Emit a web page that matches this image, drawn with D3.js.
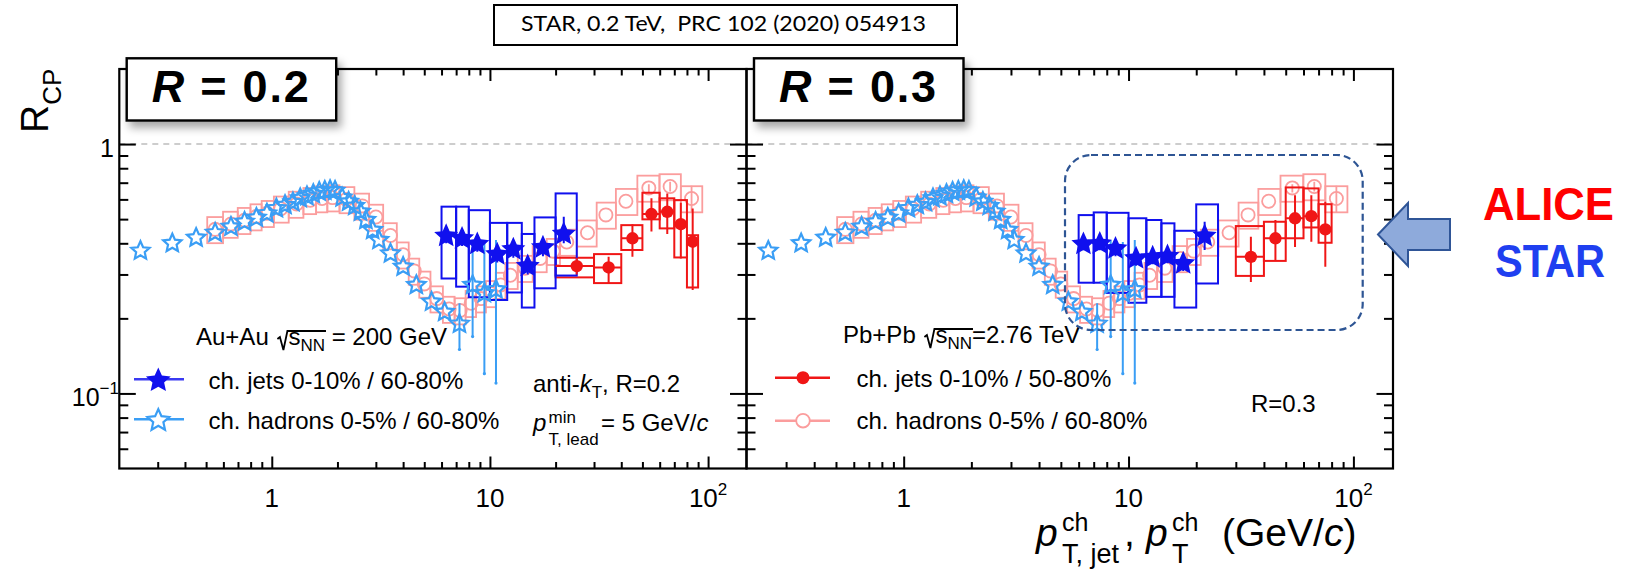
<!DOCTYPE html>
<html>
<head>
<meta charset="utf-8">
<script src="https://cdn.jsdelivr.net/npm/d3@7"></script>
<style>
  body { margin: 0; background: #fff; }
  svg { display: block; }
  text { font-family: "Liberation Sans", Arial, Helvetica, sans-serif; fill: #000; }
</style>
</head>
<body>
<svg id="chart" width="1630" height="570"></svg>
<script>
// ---------------- data ----------------
// STAR charged hadrons 0-5% / 60-80% (same in both panels)
var starHadPt = [0.25, 0.35, 0.45, 0.55, 0.65, 0.75, 0.85, 0.95, 1.05, 1.15, 1.25, 1.35,
  1.45, 1.55, 1.65, 1.75, 1.85, 1.95, 2.1, 2.25, 2.4, 2.55, 2.7, 2.9, 3.1, 3.5, 4.0, 4.6,
  5.4, 6.2, 7.25, 8.33, 9.43, 10.66];
var starHadR = [0.373, 0.40, 0.421, 0.441, 0.466, 0.488, 0.506, 0.527, 0.552, 0.569, 0.584, 0.606,
  0.618, 0.63, 0.644, 0.65, 0.654, 0.65, 0.61, 0.587, 0.564, 0.535, 0.496, 0.452, 0.412, 0.364, 0.322, 0.272,
  0.233, 0.212, 0.19, 0.272, 0.252, 0.261];
var starHadBarPt = [7.25, 8.33, 9.43, 10.66];
var starHadBarLo = [0.15, 0.169, 0.12, 0.11];
var starHadBarHi = [0.23, 0.412, 0.405, 0.412];

// ALICE charged hadrons 0-5% / 60-80% (same in both panels)
var aliceHadPt = [0.55, 0.65, 0.75, 0.85, 0.95, 1.1, 1.3, 1.5, 1.7, 1.9, 2.2, 2.6, 3.0, 3.5, 4.0,
  4.5, 5.0, 5.7, 6.5, 7.3, 8.2, 9.1, 10.1, 11.2, 12.4, 14.5, 17, 19.5, 22.5, 28, 34, 42, 53.5, 67, 84];
var aliceHadR = [0.455, 0.478, 0.495, 0.512, 0.528, 0.55, 0.575, 0.595, 0.605, 0.61, 0.60, 0.565, 0.51, 0.43, 0.36,
  0.31, 0.275, 0.24, 0.218, 0.215, 0.23, 0.24, 0.252, 0.272, 0.298, 0.318, 0.348, 0.372, 0.405, 0.441,
  0.52, 0.59, 0.667, 0.676, 0.605];
var aliceHadSys = 0.12;   // relative
var aliceHadBarPt = [53.5, 67, 84];
var aliceHadBarLo = [0.64, 0.646, 0.53];
var aliceHadBarHi = [0.69, 0.706, 0.68];

// STAR charged jets 0-10% / 60-80%
var starJetPt = [6.3, 7.45, 8.75, 10.8, 12.8, 14.9, 17.5, 21.8];
var starJetBinLo = [6, 7, 8, 10, 12, 14, 16, 20];
var starJetBinHi = [7, 8, 10, 12, 14, 16, 20, 25];
var starJetR02 = [0.428, 0.418, 0.397, 0.361, 0.378, 0.324, 0.385, 0.436];
var starJetSysLo02 = [0.289, 0.268, 0.243, 0.237, 0.254, 0.221, 0.264, 0.297];
var starJetSysHi02 = [0.561, 0.561, 0.543, 0.483, 0.483, 0.436, 0.508, 0.634];
var starJetStatLo02 = [0.40, 0.39, 0.37, 0.335, 0.35, 0.30, 0.355, 0.40];
var starJetStatHi02 = [0.46, 0.45, 0.43, 0.39, 0.41, 0.35, 0.415, 0.511];
var starJetR03 = [0.397, 0.399, 0.381, 0.348, 0.351, 0.355, 0.332, 0.428];
var starJetSysLo03 = [0.278, 0.278, 0.253, 0.231, 0.244, 0.244, 0.221, 0.276];
var starJetSysHi03 = [0.519, 0.532, 0.53, 0.504, 0.496, 0.481, 0.449, 0.573];
var starJetStatLo03 = [0.375, 0.375, 0.355, 0.325, 0.33, 0.333, 0.31, 0.376];
var starJetStatHi03 = [0.42, 0.425, 0.405, 0.372, 0.373, 0.378, 0.356, 0.488];

// ALICE charged jets 0-10% / 50-80%
var aliceJetPt02 = [25, 35, 45, 55, 65, 75, 85];
var aliceJetR02 = [0.324, 0.32, 0.419, 0.524, 0.535, 0.477, 0.406];
var aliceJetSysLo02 = [0.292, 0.277, 0.376, 0.499, 0.459, 0.351, 0.266];
var aliceJetSysHi02 = [0.35, 0.362, 0.473, 0.638, 0.606, 0.596, 0.431];
var aliceJetStatLo02 = [0.30, 0.275, 0.353, 0.446, 0.436, 0.348, 0.26];
var aliceJetStatHi02 = [0.35, 0.353, 0.477, 0.606, 0.634, 0.582, 0.552];
var aliceJetPt03 = [35, 45, 55, 65, 75];
var aliceJetR03 = [0.353, 0.419, 0.504, 0.514, 0.455];
var aliceJetSysLo03 = [0.296, 0.34, 0.419, 0.463, 0.402];
var aliceJetSysHi03 = [0.469, 0.488, 0.67, 0.664, 0.574];
var aliceJetStatLo03 = [0.28, 0.343, 0.387, 0.406, 0.322];
var aliceJetStatHi03 = [0.425, 0.496, 0.624, 0.624, 0.587];
var aliceJetBinHalf = 5;

// axis ticks
var xMajor = [1, 10, 100];
var xMinor = [0.3, 0.4, 0.5, 0.6, 0.7, 0.8, 0.9, 2, 3, 4, 5, 6, 7, 8, 9, 20, 30, 40, 50, 60, 70, 80, 90];
var yMajor = [0.1, 1];
var yMinor = [0.06, 0.07, 0.08, 0.09, 0.2, 0.3, 0.4, 0.5, 0.6, 0.7, 0.8, 0.9];

// colours
var cStarHad = "#3a9ef5", cStarJet = "#1010ee", cAliceJet = "#f01616", cAliceHad = "#fb9d9d";

// ---------------- layout ----------------
var svg = d3.select("#chart");
var frameTop = 69, frameBot = 468.5;
var edgesX = [119.3, 746.5, 1393];

var y = d3.scaleLog().domain([0.05, 2]).range([frameBot, frameTop]);
var xL = d3.scaleLog().domain([0.2, 150]).range([edgesX[0], edgesX[1]]);
var xR = d3.scaleLog().domain([0.2, 150]).range([edgesX[1], edgesX[2]]);

var defs = svg.append("defs");
var sh = defs.append("filter").attr("id", "shadow")
  .attr("x", "-10%").attr("y", "-20%").attr("width", "130%").attr("height", "160%");
sh.append("feDropShadow").attr("dx", 4).attr("dy", 6).attr("stdDeviation", 4)
  .attr("flood-color", "#000").attr("flood-opacity", 0.35);

// ROOT-like star marker (a bit fatter than d3.symbolStar); size = outer radius^2
var rootStar = {
  draw: function (ctx, size) {
    var r = Math.sqrt(size), ri = r * 0.47;
    for (var i = 0; i < 10; i++) {
      var a = Math.PI * i / 5, rr = i % 2 ? ri : r;
      var px = rr * Math.sin(a), py = -rr * Math.cos(a);
      if (i === 0) ctx.moveTo(px, py); else ctx.lineTo(px, py);
    }
    ctx.closePath();
  }
};
var starSym = d3.symbol().type(rootStar);

// bin edges of the ALICE hadron boxes: half way (in log) to the neighbours
function logEdges(pts) {
  return pts.map(function (v, i) {
    var prev = i > 0 ? pts[i - 1] : v * v / pts[i + 1];
    var next = i < pts.length - 1 ? pts[i + 1] : v * v / pts[i - 1];
    return [Math.sqrt(prev * v), Math.sqrt(v * next)];
  });
}
var aliceHadEdges = logEdges(aliceHadPt);

// little helper for text with sub/superscripts
function rich(sel, x, yy, size, parts, anchor) {
  var t = sel.append("text").attr("x", x).attr("y", yy).attr("font-size", size)
    .attr("text-anchor", anchor || "start");
  var shift = 0;
  parts.forEach(function (p) {
    var s = p.shift || 0;
    var ts = t.append("tspan").attr("dy", s - shift).text(p.t);
    shift = s;
    if (p.size) ts.attr("font-size", p.size);
    if (p.it) ts.attr("font-style", "italic");
    if (p.dx) ts.attr("dx", p.dx);
  });
  return t;
}

// radical drawn over characters i0..i1 of a text element
function radical(sel, textSel, i0, i1, base) {
  var n = textSel.node();
  var xs = n.getStartPositionOfChar(i0).x, xe = n.getEndPositionOfChar(i1).x;
  sel.append("path")
    .attr("d", "M" + (xs - 11) + "," + (base - 6) + "L" + (xs - 8.5) + "," + (base - 8) +
      "L" + (xs - 5) + "," + (base + 5) + "L" + (xs - 1) + "," + (base - 14) + "L" + (xe + 1) + "," + (base - 14))
    .attr("fill", "none").attr("stroke", "#000").attr("stroke-width", 1.8);
}

// dashed line at R = 1 across both panels
svg.append("line")
  .attr("x1", edgesX[0]).attr("x2", edgesX[2]).attr("y1", y(1)).attr("y2", y(1))
  .attr("stroke", "#bdbdbd").attr("stroke-width", 1.6).attr("stroke-dasharray", "6,5");

function drawPanel(x, id, starR, sLo, sHi, stLo, stHi, aPt, aR, aSLo, aSHi, aStLo, aStHi) {
  var g = svg.append("g");
  defs.append("clipPath").attr("id", "clip" + id).append("rect")
    .attr("x", x.range()[0]).attr("y", frameTop)
    .attr("width", x.range()[1] - x.range()[0]).attr("height", frameBot - frameTop);
  var d = g.append("g").attr("clip-path", "url(#clip" + id + ")");

  // ALICE hadrons: systematic boxes + open circles
  d.selectAll(".ahbox").data(aliceHadPt).enter().append("rect")
    .attr("x", function (v, i) { return x(aliceHadEdges[i][0]); })
    .attr("width", function (v, i) { return x(aliceHadEdges[i][1]) - x(aliceHadEdges[i][0]); })
    .attr("y", function (v, i) { return y(aliceHadR[i] * (1 + aliceHadSys)); })
    .attr("height", function (v, i) { return y(aliceHadR[i] * (1 - aliceHadSys)) - y(aliceHadR[i] * (1 + aliceHadSys)); })
    .attr("fill", "none").attr("stroke", cAliceHad).attr("stroke-width", 1.8);
  d.selectAll(".ahbar").data(aliceHadBarPt).enter().append("line")
    .attr("x1", function (v) { return x(v); }).attr("x2", function (v) { return x(v); })
    .attr("y1", function (v, i) { return y(aliceHadBarLo[i]); })
    .attr("y2", function (v, i) { return y(aliceHadBarHi[i]); })
    .attr("stroke", cAliceHad).attr("stroke-width", 1.8);
  d.selectAll(".ahpt").data(aliceHadPt).enter().append("circle")
    .attr("cx", function (v) { return x(v); })
    .attr("cy", function (v, i) { return y(aliceHadR[i]); })
    .attr("r", 6.6).attr("fill", "none").attr("stroke", cAliceHad).attr("stroke-width", 1.8);

  // ALICE jets boxes
  d.selectAll(".ajbox").data(aPt).enter().append("rect")
    .attr("x", function (v) { return x(v - aliceJetBinHalf); })
    .attr("width", function (v) { return x(v + aliceJetBinHalf) - x(v - aliceJetBinHalf); })
    .attr("y", function (v, i) { return y(aSHi[i]); })
    .attr("height", function (v, i) { return y(aSLo[i]) - y(aSHi[i]); })
    .attr("fill", "none").attr("stroke", cAliceJet).attr("stroke-width", 2);

  // STAR jets boxes
  d.selectAll(".sjbox").data(starJetPt).enter().append("rect")
    .attr("x", function (v, i) { return x(starJetBinLo[i]); })
    .attr("width", function (v, i) { return x(starJetBinHi[i]) - x(starJetBinLo[i]); })
    .attr("y", function (v, i) { return y(sHi[i]); })
    .attr("height", function (v, i) { return y(sLo[i]) - y(sHi[i]); })
    .attr("fill", "none").attr("stroke", cStarJet).attr("stroke-width", 2);

  // STAR hadrons
  d.selectAll(".shbar").data(starHadBarPt).enter().append("line")
    .attr("x1", function (v) { return x(v); }).attr("x2", function (v) { return x(v); })
    .attr("y1", function (v, i) { return y(starHadBarLo[i]); })
    .attr("y2", function (v, i) { return y(starHadBarHi[i]); })
    .attr("stroke", cStarHad).attr("stroke-width", 2);
  d.selectAll(".shbarend").data(starHadBarPt).enter().append("circle")
    .attr("cx", function (v) { return x(v); })
    .attr("cy", function (v, i) { return y(starHadBarLo[i]); })
    .attr("r", 1.6).attr("fill", cStarHad);
  d.selectAll(".shpt").data(starHadPt).enter().append("path")
    .attr("d", starSym.size(92)())
    .attr("transform", function (v, i) { return "translate(" + x(v) + "," + y(starHadR[i]) + ")"; })
    .attr("fill", "none").attr("stroke", cStarHad).attr("stroke-width", 2.2);

  // ALICE jets: bin bars, stat bars, filled circles
  d.selectAll(".ajh").data(aPt).enter().append("line")
    .attr("x1", function (v) { return x(v - aliceJetBinHalf); })
    .attr("x2", function (v) { return x(v + aliceJetBinHalf); })
    .attr("y1", function (v, i) { return y(aR[i]); }).attr("y2", function (v, i) { return y(aR[i]); })
    .attr("stroke", cAliceJet).attr("stroke-width", 2);
  d.selectAll(".ajv").data(aPt).enter().append("line")
    .attr("x1", function (v) { return x(v); }).attr("x2", function (v) { return x(v); })
    .attr("y1", function (v, i) { return y(aStLo[i]); }).attr("y2", function (v, i) { return y(aStHi[i]); })
    .attr("stroke", cAliceJet).attr("stroke-width", 2);
  d.selectAll(".ajpt").data(aPt).enter().append("circle")
    .attr("cx", function (v) { return x(v); })
    .attr("cy", function (v, i) { return y(aR[i]); })
    .attr("r", 6.2).attr("fill", cAliceJet);

  // STAR jets: stat bars + filled stars
  d.selectAll(".sjv").data(starJetPt).enter().append("line")
    .attr("x1", function (v) { return x(v); }).attr("x2", function (v) { return x(v); })
    .attr("y1", function (v, i) { return y(stLo[i]); }).attr("y2", function (v, i) { return y(stHi[i]); })
    .attr("stroke", cStarJet).attr("stroke-width", 2);
  d.selectAll(".sjpt").data(starJetPt).enter().append("path")
    .attr("d", starSym.size(160)())
    .attr("transform", function (v, i) { return "translate(" + x(v) + "," + y(starR[i]) + ")"; })
    .attr("fill", cStarJet);

  // frame + inward ticks
  var x0 = x.range()[0], x1 = x.range()[1];
  function ax(axis, tx, ty) {
    g.append("g").attr("transform", "translate(" + tx + "," + ty + ")").call(axis)
      .call(function (s) {
        s.select(".domain").remove();
        s.selectAll("text").remove();
        s.selectAll("line").attr("stroke", "#000").attr("stroke-width", 2);
      });
  }
  ax(d3.axisBottom(x).tickValues(xMajor).tickSize(-12).tickFormat(""), 0, frameBot);
  ax(d3.axisBottom(x).tickValues(xMinor).tickSize(-6.5).tickFormat(""), 0, frameBot);
  ax(d3.axisTop(x).tickValues(xMajor).tickSize(-12).tickFormat(""), 0, frameTop);
  ax(d3.axisTop(x).tickValues(xMinor).tickSize(-6.5).tickFormat(""), 0, frameTop);
  ax(d3.axisLeft(y).tickValues(yMajor).tickSize(-16.5).tickFormat(""), x0, 0);
  ax(d3.axisLeft(y).tickValues(yMinor).tickSize(-9).tickFormat(""), x0, 0);
  ax(d3.axisRight(y).tickValues(yMajor).tickSize(-16.5).tickFormat(""), x1, 0);
  ax(d3.axisRight(y).tickValues(yMinor).tickSize(-9).tickFormat(""), x1, 0);
  g.append("rect").attr("x", x0).attr("y", frameTop).attr("width", x1 - x0)
    .attr("height", frameBot - frameTop).attr("fill", "none").attr("stroke", "#000").attr("stroke-width", 2.2);

  // x tick labels
  xMajor.forEach(function (v) {
    var parts = v === 100 ? [{ t: "10" }, { t: "2", size: 17, shift: -12 }] : [{ t: String(v) }];
    rich(svg, x(v), 506.5, 26, parts, "middle");
  });
  return g;
}

drawPanel(xL, "L", starJetR02, starJetSysLo02, starJetSysHi02, starJetStatLo02, starJetStatHi02,
  aliceJetPt02, aliceJetR02, aliceJetSysLo02, aliceJetSysHi02, aliceJetStatLo02, aliceJetStatHi02);
drawPanel(xR, "R", starJetR03, starJetSysLo03, starJetSysHi03, starJetStatLo03, starJetStatHi03,
  aliceJetPt03, aliceJetR03, aliceJetSysLo03, aliceJetSysHi03, aliceJetStatLo03, aliceJetStatHi03);

// y tick labels (left panel only)
rich(svg, 114, y(1) + 12.5, 25, [{ t: "1" }], "end");
rich(svg, 119, y(0.1) + 13, 25, [{ t: "10" }, { t: "\u22121", size: 17, shift: -12 }], "end");

// y title R_CP
var yt = svg.append("g").attr("transform", "translate(48,133) rotate(-90)");
rich(yt, 0, 0, 39, [{ t: "R" }, { t: "CP", size: 26, shift: 13 }]);

// x title
var xt = svg.append("g");
rich(xt, 1036, 546, 39, [{ t: "p", it: true }]);
rich(xt, 1062, 531, 25, [{ t: "ch" }]);
rich(xt, 1062, 563, 27, [{ t: "T, jet" }]);
rich(xt, 1124, 546, 39, [{ t: "," }]);
rich(xt, 1146, 546, 39, [{ t: "p", it: true }]);
rich(xt, 1172, 531, 25, [{ t: "ch" }]);
rich(xt, 1172, 563, 27, [{ t: "T" }]);
rich(xt, 1222, 546, 39, [{ t: "(GeV/" }, { t: "c", it: true }, { t: ")" }]);

// ---------------- left legend ----------------
var lg = svg.append("g");
var auText = rich(lg, 196, 345, 24, [{ t: "Au+Au " }, { t: "s", dx: 13 }, { t: "NN", size: 17, shift: 6 }, { t: " = 200 GeV", shift: 0 }]);
radical(lg, auText, 6, 8, 345);
lg.append("line").attr("x1", 134).attr("x2", 184).attr("y1", 379.3).attr("y2", 379.3)
  .attr("stroke", "#3a3af2").attr("stroke-width", 2.4);
lg.append("path").attr("d", starSym.size(170)()).attr("transform", "translate(158.3,380.5)").attr("fill", cStarJet);
rich(lg, 208.5, 389, 24, [{ t: "ch. jets 0-10% / 60-80%" }]);
lg.append("line").attr("x1", 134).attr("x2", 184).attr("y1", 419.3).attr("y2", 419.3)
  .attr("stroke", cStarHad).attr("stroke-width", 2.4);
lg.append("path").attr("d", starSym.size(130)()).attr("transform", "translate(158.3,420.5)")
  .attr("fill", "#fff").attr("stroke", cStarHad).attr("stroke-width", 2.2);
rich(lg, 208.5, 429, 24, [{ t: "ch. hadrons 0-5% / 60-80%" }]);
rich(lg, 533, 391.5, 24, [{ t: "anti-" }, { t: "k", it: true }, { t: "T", size: 17, shift: 6 }, { t: ", R=0.2", shift: 0 }]);
rich(lg, 533, 431, 24, [{ t: "p", it: true }]);
rich(lg, 548.5, 423, 17, [{ t: "min" }]);
rich(lg, 548.5, 444.5, 17, [{ t: "T, lead" }]);
rich(lg, 601, 431, 24, [{ t: "= 5 GeV/" }, { t: "c", it: true }]);

// ---------------- right legend ----------------
var rg = svg.append("g");
var pbText = rich(rg, 843, 343, 24, [{ t: "Pb+Pb " }, { t: "s", dx: 13 }, { t: "NN", size: 17, shift: 6 }, { t: "=2.76 TeV", shift: 0 }]);
radical(rg, pbText, 6, 8, 343);
rg.append("line").attr("x1", 775).attr("x2", 830).attr("y1", 377.7).attr("y2", 377.7)
  .attr("stroke", cAliceJet).attr("stroke-width", 2.4);
rg.append("circle").attr("cx", 803).attr("cy", 377.7).attr("r", 6.5).attr("fill", cAliceJet);
rich(rg, 856.5, 386.7, 24, [{ t: "ch. jets 0-10% / 50-80%" }]);
rg.append("line").attr("x1", 775).attr("x2", 830).attr("y1", 420.7).attr("y2", 420.7)
  .attr("stroke", cAliceHad).attr("stroke-width", 2.4);
rg.append("circle").attr("cx", 803).attr("cy", 420.7).attr("r", 6.8).attr("fill", "#fff")
  .attr("stroke", cAliceHad).attr("stroke-width", 1.8);
rich(rg, 856.5, 428.5, 24, [{ t: "ch. hadrons 0-5% / 60-80%" }]);
rich(rg, 1251, 411.5, 24, [{ t: "R=0.3" }]);

// ---------------- annotations ----------------
// rounded dashed region in the right panel
svg.append("rect").attr("x", 1065).attr("y", 155).attr("width", 297.7).attr("height", 175)
  .attr("rx", 26).attr("ry", 26).attr("fill", "none")
  .attr("stroke", "#2e5594").attr("stroke-width", 2.2).attr("stroke-dasharray", "7,4");

// R = 0.2 / R = 0.3 labels
[[126.7, "0.2"], [754, "0.3"]].forEach(function (b) {
  svg.append("rect").attr("x", b[0]).attr("y", 58.3).attr("width", 209.5).attr("height", 62.2)
    .attr("fill", "#fff").attr("stroke", "#000").attr("stroke-width", 2.4).attr("filter", "url(#shadow)");
  rich(svg, b[0] + 25, 101.5, 45, [{ t: "R", it: true }, { t: " = " + b[1] }])
    .attr("font-weight", "bold").attr("textLength", 157).attr("lengthAdjust", "spacing");
});

// reference box at the top
svg.append("rect").attr("x", 494).attr("y", 5).attr("width", 463).attr("height", 40)
  .attr("fill", "#fff").attr("stroke", "#000").attr("stroke-width", 2);
svg.append("text").attr("x", 521).attr("y", 31).attr("font-size", 22)
  .style("font-family", "Lato, 'Open Sans', sans-serif").style("white-space", "pre")
  .attr("textLength", 405).attr("lengthAdjust", "spacingAndGlyphs")
  .text("STAR, 0.2 TeV,  PRC 102 (2020) 054913");

// arrow + experiment names
svg.append("path")
  .attr("d", "M1378,234.5 L1408,203 L1408,219 L1450,219 L1450,250 L1408,250 L1408,266 Z")
  .attr("fill", "#8eaadb").attr("stroke", "#2f5597").attr("stroke-width", 2);
svg.append("text").attr("x", 1548.5).attr("y", 220).attr("text-anchor", "middle")
  .attr("font-size", 46).attr("font-weight", "bold").style("fill", "#ff0000")
  .attr("textLength", 131).attr("lengthAdjust", "spacingAndGlyphs").text("ALICE");
svg.append("text").attr("x", 1550).attr("y", 277).attr("text-anchor", "middle")
  .attr("font-size", 46).attr("font-weight", "bold").style("fill", "#1f3ff0")
  .attr("textLength", 110).attr("lengthAdjust", "spacingAndGlyphs").text("STAR");
</script>
</body>
</html>
